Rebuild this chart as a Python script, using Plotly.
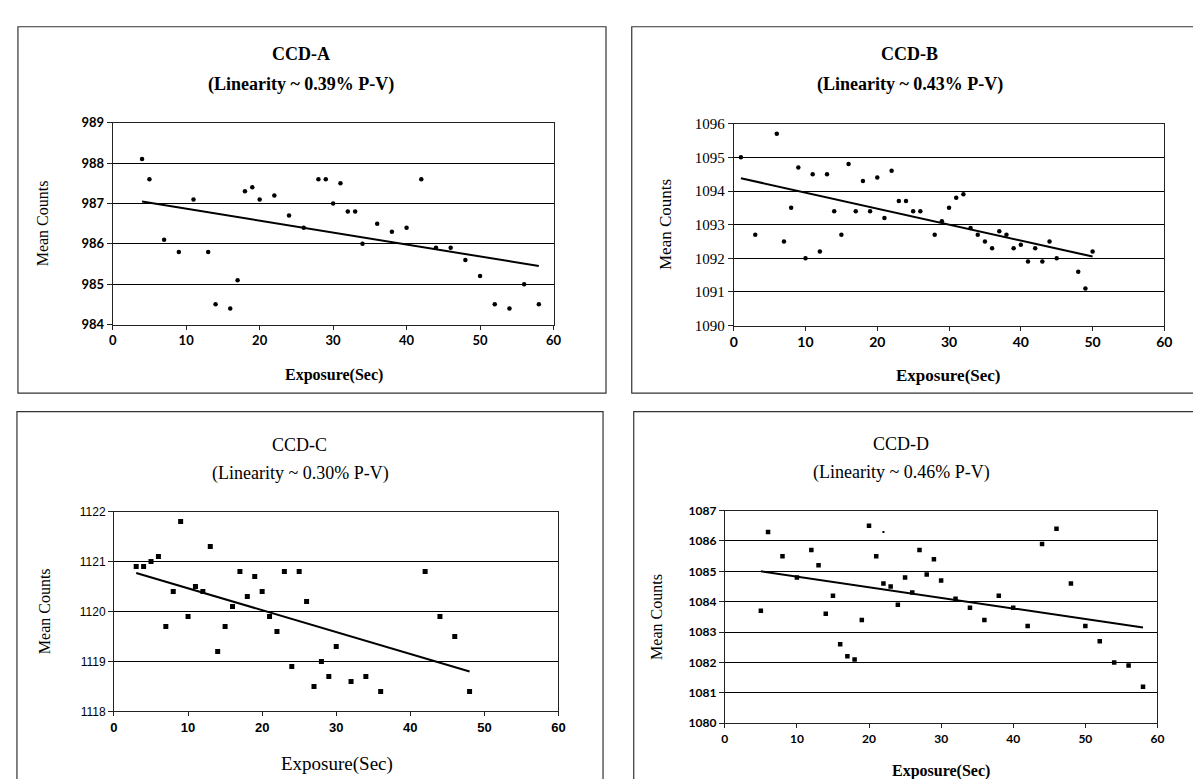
import plotly.graph_objects as go

W, H = 1201, 779

# ---------------- data ----------------
xa = [4, 5, 7, 9, 11, 13, 14, 16, 17, 18, 19, 20, 22, 24, 26, 28, 29, 30, 31, 32, 33, 34,
      36, 38, 40, 42, 44, 46, 48, 50, 52, 54, 56, 58]
ya = [988.1, 987.6, 986.1, 985.8, 987.1, 985.8, 984.5, 984.4, 985.1, 987.3, 987.4, 987.1,
      987.2, 986.7, 986.4, 987.6, 987.6, 987.0, 987.5, 986.8, 986.8, 986.0, 986.5, 986.3,
      986.4, 987.6, 985.9, 985.9, 985.6, 985.2, 984.5, 984.4, 985.0, 984.5]
trend_a_x = [4, 58]
trend_a_y = [987.05, 985.45]

xb = [1, 3, 6, 7, 8, 9, 10, 11, 12, 13, 14, 15, 16, 17, 18, 19, 20, 21, 22, 23, 24, 25, 26,
      28, 29, 30, 31, 32, 33, 34, 35, 36, 37, 38, 39, 40, 41, 42, 43, 44, 45, 48, 49, 50]
yb = [1095.0, 1092.7, 1095.7, 1092.5, 1093.5, 1094.7, 1092.0, 1094.5, 1092.2, 1094.5,
      1093.4, 1092.7, 1094.8, 1093.4, 1094.3, 1093.4, 1094.4, 1093.2, 1094.6, 1093.7,
      1093.7, 1093.4, 1093.4, 1092.7, 1093.1, 1093.5, 1093.8, 1093.9, 1092.9, 1092.7,
      1092.5, 1092.3, 1092.8, 1092.7, 1092.3, 1092.4, 1091.9, 1092.3, 1091.9, 1092.5,
      1092.0, 1091.6, 1091.1, 1092.2]
trend_b_x = [1, 50]
trend_b_y = [1094.38, 1092.05]

xc = [3, 4, 5, 6, 7, 8, 9, 10, 11, 12, 13, 14, 15, 16, 17, 18, 19, 20, 21, 22, 23, 24, 25,
      26, 27, 28, 29, 30, 32, 34, 36, 42, 44, 46, 48]
yc = [1120.9, 1120.9, 1121.0, 1121.1, 1119.7, 1120.4, 1121.8, 1119.9, 1120.5, 1120.4,
      1121.3, 1119.2, 1119.7, 1120.1, 1120.8, 1120.3, 1120.7, 1120.4, 1119.9, 1119.6,
      1120.8, 1118.9, 1120.8, 1120.2, 1118.5, 1119.0, 1118.7, 1119.3, 1118.6, 1118.7,
      1118.4, 1120.8, 1119.9, 1119.5, 1118.4]
trend_c_x = [3, 48]
trend_c_y = [1120.77, 1118.8]

xd = [5, 6, 8, 10, 12, 13, 14, 15, 16, 17, 18, 19, 20, 21, 22, 23, 24, 25, 26, 27, 28, 29,
      30, 32, 34, 36, 38, 40, 42, 44, 46, 48, 50, 52, 54, 56, 58]
yd = [1083.7, 1086.3, 1085.5, 1084.8, 1085.7, 1085.2, 1083.6, 1084.2, 1082.6, 1082.2,
      1082.1, 1083.4, 1086.5, 1085.5, 1084.6, 1084.5, 1083.9, 1084.8, 1084.3, 1085.7,
      1084.9, 1085.4, 1084.7, 1084.1, 1083.8, 1083.4, 1084.2, 1083.8, 1083.2, 1085.9,
      1086.4, 1084.6, 1083.2, 1082.7, 1082.0, 1081.9, 1081.2]
stray_d_x = [22]
stray_d_y = [1086.3]
trend_d_x = [5, 58]
trend_d_y = [1085.0, 1083.15]

titles = ["CCD-A", "CCD-B", "CCD-C", "CCD-D"]
subtitles = ["(Linearity ~ 0.39% P-V)", "(Linearity ~ 0.43% P-V)",
             "(Linearity ~ 0.30% P-V)", "(Linearity ~ 0.46% P-V)"]
x_label = "Exposure(Sec)"
y_label = "Mean Counts"
x_ticks = [0, 10, 20, 30, 40, 50, 60]

# ---------------- helpers ----------------
def fx(px):
    return px / W

def fy(py):
    return 1 - py / H

fig = go.Figure()

def add_scatter(x, y, ax, symbol, size):
    fig.add_trace(go.Scatter(x=x, y=y, mode="markers", xaxis="x" + ax, yaxis="y" + ax,
                             marker=dict(color="black", size=size, symbol=symbol),
                             showlegend=False, hoverinfo="x+y"))

def add_trend(x, y, ax):
    fig.add_trace(go.Scatter(x=x, y=y, mode="lines", xaxis="x" + ax, yaxis="y" + ax,
                             line=dict(color="black", width=2), showlegend=False,
                             hoverinfo="skip"))

add_trend(trend_a_x, trend_a_y, "")
add_scatter(xa, ya, "", "circle", 4.5)
add_trend(trend_b_x, trend_b_y, "2")
add_scatter(xb, yb, "2", "circle", 4.5)
add_trend(trend_c_x, trend_c_y, "3")
add_scatter(xc, yc, "3", "square", 5)
add_trend(trend_d_x, trend_d_y, "4")
add_scatter(xd, yd, "4", "square", 4.5)
add_scatter(stray_d_x, stray_d_y, "4", "square", 2)

# plot areas in pixels: (left, right, top, bottom)
areas = {
    "": (101.7, 547, 109, 315),
    "2": (729, 1164, 110, 316),
    "3": (103, 552, 506, 710),
    "4": (720, 1157, 505, 722),
}
yranges = {"": [984, 989], "2": [1090, 1096], "3": [1118, 1122], "4": [1080, 1087]}

ytick_fonts = {
    "": dict(family="Lato", size=13, color="black", weight="bold"),
    "2": dict(family="Liberation Serif", size=15, color="black"),
    "3": dict(family="Liberation Sans Narrow, Liberation Sans", size=12, color="black"),
    "4": dict(family="Lato", size=12, color="black", weight="bold"),
}
xtick_fonts = {
    "": dict(family="Lato", size=13, color="black", weight="bold"),
    "2": dict(family="Lato", size=14, color="black", weight="bold"),
    "3": dict(family="Liberation Sans Narrow, Liberation Sans", size=13, color="black", weight="bold"),
    "4": dict(family="Lato", size=12, color="black", weight="bold"),
}

layout = {}
for ax, (l, r, t, b) in areas.items():
    layout["xaxis" + ax] = dict(
        domain=[fx(l), fx(r)], range=[0, 60], tickvals=x_ticks, anchor="y" + ax,
        showgrid=False, zeroline=False, showline=True, mirror=True,
        linecolor="#222", linewidth=1, ticks="outside", ticklen=4, tickcolor="#222",
        tickfont=xtick_fonts[ax], fixedrange=True)
    layout["yaxis" + ax] = dict(
        domain=[fy(b), fy(t)], range=yranges[ax], dtick=1, anchor="x" + ax,
        showgrid=True, gridcolor="black", gridwidth=1, zeroline=False, showline=True,
        mirror=True, linecolor="#222", linewidth=1, ticks="outside", ticklen=5,
        tickcolor="#222", tickfont=ytick_fonts[ax], fixedrange=True)

annotations = []
def ann(text, px, py, font, angle=0):
    annotations.append(dict(text=text, x=fx(px), y=fy(py), xref="paper", yref="paper",
                            showarrow=False, font=font, textangle=angle,
                            xanchor="center", yanchor="middle"))

title_bold = dict(family="Liberation Serif", size=18, color="black", weight="bold")
title_reg = dict(family="Liberation Serif", size=18, color="black")

ann(titles[0], 292, 39, title_bold)
ann(subtitles[0], 292, 70, title_bold)
ann(titles[1], 907, 39, title_bold)
ann(subtitles[1], 907, 70, title_bold)
ann(titles[2], 290, 438, title_reg)
ann(subtitles[2], 291, 467, title_reg)
ann(titles[3], 898, 437, title_reg)
ann(subtitles[3], 898, 466, title_reg)

ylab_font = dict(family="Liberation Serif", size=16, color="black")
ann(y_label, 31, 212, ylab_font, -90)
ann(y_label, 660, 213, dict(family="Liberation Serif", size=17, color="black"), -90)
ann(y_label, 33, 608, ylab_font, -90)
ann(y_label, 651, 613, ylab_font, -90)

ann(x_label, 325, 367, dict(family="Liberation Serif", size=16, color="black", weight="bold"))
ann(x_label, 946, 367, dict(family="Liberation Serif", size=17, color="black", weight="bold"))
ann(x_label, 328, 764, dict(family="Liberation Serif", size=19, color="black"))
ann(x_label, 938, 771, dict(family="Liberation Serif", size=16, color="black", weight="bold"))

shapes = []
for (l, t, r, b) in [(6, 11, 600, 385), (626, 11, 1196, 385), (5, 404, 597, 790), (628, 404, 1205, 790)]:
    shapes.append(dict(type="rect", xref="paper", yref="paper", x0=fx(l), x1=fx(r),
                       y0=fy(b), y1=fy(t), line=dict(color="#333", width=1.2)))

fig.update_layout(width=W, height=H, margin=dict(l=0, r=0, t=0, b=0),
                  paper_bgcolor="white", plot_bgcolor="white", showlegend=False,
                  annotations=annotations, shapes=shapes, **layout)

fig.write_html("out.html")
